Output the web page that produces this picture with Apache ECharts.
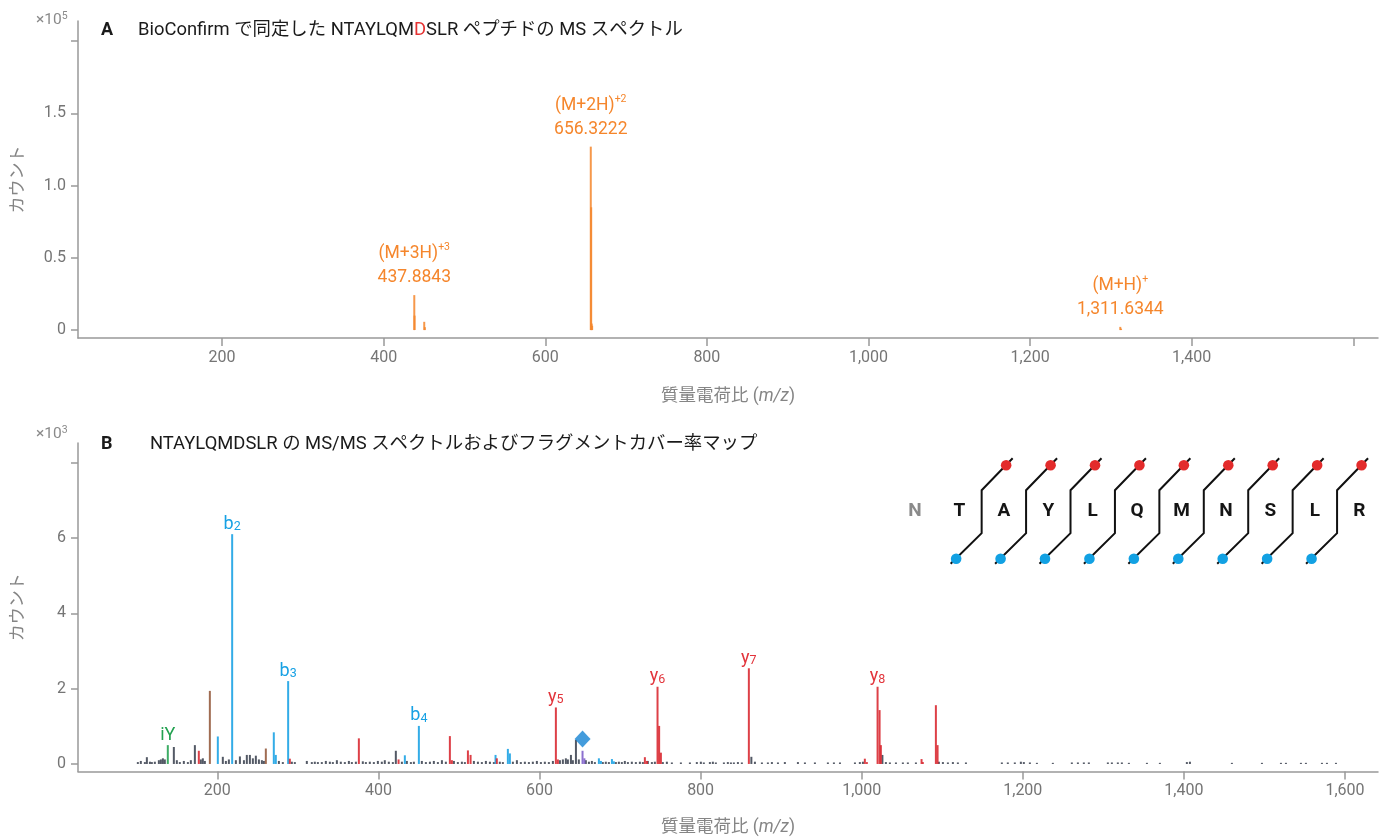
<!DOCTYPE html>
<html>
<head>
<meta charset="utf-8">
<script src="https://cdn.jsdelivr.net/npm/echarts@6/dist/echarts.min.js"></script>
<style>
  html, body { margin: 0; padding: 0; background: #fff; }
  #chart { width: 1389px; height: 840px; }
</style>
</head>
<body>
<div id="chart"></div>
<script>
// ---------- Panel A: MS spectrum (counts in units of 10^5) ----------
const msMz     = [437.8843, 438.22, 450.2, 451.0, 656.3222, 656.82, 657.4, 658.0, 1311.6344, 1312.6];
const msCounts = [0.242,    0.10,   0.057, 0.02,  1.27,     0.85,   0.045, 0.03,  0.022,     0.01];
// charge-state annotations: ion name, charge text, m/z of the annotated peak
const msIonName   = ['(M+3H)', '(M+2H)', '(M+H)'];
const msIonCharge = ['+3', '+2', '+'];
const msIonMz     = [437.8843, 656.3222, 1311.6344];

// ---------- Panel B: MS/MS spectrum (counts in units of 10^3) ----------
const otherMz = [101.3,105,110,112.5,116.3,118.7,122.4,127.4,129.9,132.4,134.8,146,149.7,153.4,158.4,163.4,167.1,172.1,179.5,182,184.5,206.8,210.6,214.3,223,228,233,236.6,240.4,244.1,247.8,251.6,255.3,257.8,276.4,281.3,292.5,296.2,311.1,317.3,321,324.8,
  329.7,334.7,339.7,343.4,348.4,353.3,358.3,363.3,367,372,380.6,384.4,389.3,394.3,399.3,404.2,407.9,412.9,417.9,421.6,429.1,435.3,440.3,444,453.9,458.9,463.9,468.8,473.8,478.8,483.7,493.7,498.6,503.6,507.3,518.5,523.5,528.4,533.4,538.4,543.3,550.7,554.5,566.9,571.9,576.8,581.8,586.8,591.7,596.7,601.7,606.6,611.6,616.6,625.3,629,632.7,635.2,639,641.4,645.2,648.8,657.5,661.3,665,668.7,678.6,682.3,686.1,694.8,698.5,702.2,705.9,709.7,714.6,719.6,724.6,728.3,734.5,739.5,743.2,
  753.1,758.1,764.3,775.5,786.7,795.3,800.3,804,811.5,815.2,818.9,828.9,833.8,837.6,841.3,846.3,851.2,863,867.4,876.1,883.5,888.5,896,904.6,920.8,929.5,941.9,958,965.5,973,991.6,997.7,1001.5,1025.7,1030,1035,1042.5,1051.1,1057.3,1067.3,1095.8,1100.8,1107,1113.2,1119.4,1129.4,1174,1181.4,1190.1,1197.6,1201.3,1208.8,1217.5,1237.3,1260.9,1268.4,1275.8,1282,1305.6,1310.6,1318,1323,1331.7,1354.1,1370.2,1403.7,1407.5,1459.6,1496.9,1520.5,1526.7,1545.3,1551.5,1571.4,1577.6,1588.8];
const otherCounts = [0.05,0.08,0.05,0.18,0.06,0.05,0.06,0.1,0.12,0.15,0.12,0.45,0.1,0.05,0.08,0.05,0.1,0.5,0.12,0.15,0.08,0.19,0.08,0.12,0.1,0.2,0.1,0.24,0.24,0.15,0.22,0.12,0.1,0.08,0.08,0.05,0.06,0.05,0.08,0.05,0.06,0.05,
  0.05,0.08,0.06,0.05,0.1,0.06,0.05,0.08,0.05,0.06,0.07,0.05,0.06,0.05,0.08,0.06,0.1,0.06,0.05,0.35,0.06,0.08,0.05,0.06,0.08,0.05,0.06,0.08,0.05,0.1,0.06,0.08,0.05,0.06,0.05,0.08,0.06,0.05,0.08,0.06,0.05,0.06,0.05,0.06,0.1,0.05,0.06,0.05,0.06,0.08,0.05,0.06,0.05,0.08,0.1,0.12,0.15,0.12,0.24,0.1,0.64,0.12,0.1,0.06,0.08,0.05,0.05,0.06,0.05,0.05,0.06,0.05,0.08,0.05,0.06,0.05,0.06,0.05,0.08,0.05,0.06,
  0.05,0.06,0.04,0.04,0.04,0.05,0.06,0.04,0.05,0.06,0.04,0.04,0.05,0.04,0.04,0.05,0.04,0.19,0.06,0.04,0.04,0.05,0.04,0.05,0.05,0.04,0.04,0.04,0.04,0.04,0.04,0.05,0.06,0.24,0.05,0.04,0.04,0.04,0.04,0.04,0.06,0.05,0.04,0.05,0.04,0.04,0.04,0.04,0.04,0.06,0.05,0.04,0.03,0.03,0.04,0.04,0.04,0.04,0.04,0.04,0.04,0.04,0.03,0.03,0.03,0.05,0.06,0.03,0.03,0.03,0.03,0.03,0.03,0.03,0.03,0.03];

const bIonMz     = [200.6, 218.4, 270.1, 272.6, 287.9, 432.8, 450.2, 545.4, 560.7, 563.2, 673.7, 676.2, 689.9, 692.3];
const bIonCounts = [0.73,  6.10,  0.84,  0.24,  2.20,  0.23,  1.01,  0.24,  0.40,  0.28,  0.15,  0.08,  0.13,  0.07];
const bIonTag    = ['',    'b2',  '',    '',    'b3',  '',    'b4',  '',    '',    '',    '',    '',    '',    ''];

const yIonMz     = [177.0, 290.0, 375.7, 425.0, 488.7, 491.2, 511.1, 514.4, 547.0, 620.3, 622.8, 730.8, 733.3, 746.5, 748.5, 750.7, 859.9, 1003.9, 1006.4, 1019.7, 1022.2, 1023.8, 1074.3, 1075.9, 1092.1, 1094.2];
const yIonCounts = [0.35,  0.14,  0.68,  0.12,  0.74,  0.10,  0.36,  0.24,  0.15,  1.50,  0.12,  0.18,  0.08,  2.05,  1.01,  0.30,  2.54,  0.14,   0.05,   2.05,   1.43,   0.50,   0.13,   0.05,   1.56,   0.50];
const yIonTag    = ['',    '',    '',    '',    '',    '',    '',    '',    '',    'y5',  '',    '',    '',    'y6',  '',    '',    'y7',  '',     '',     'y8',   '',     '',     '',     '',     '',     ''];

const internalMz     = [190.7, 260.2];
const internalCounts = [1.94,  0.41];
const immoniumMz     = [138.5];
const immoniumCounts = [0.50];
const immoniumTag    = ['iY'];
const precursorIonMz     = [653.4, 655.7];
const precursorIonCounts = [0.35,  0.15];
const precursorMarkMz    = 653.4;
const precursorMarkLevel = 0.66;

// ---------- Fragment coverage map ----------
const residues   = ['N', 'T', 'A', 'Y', 'L', 'Q', 'M', 'N', 'S', 'L', 'R'];
const bCoverage  = [1, 1, 1, 1, 1, 1, 1, 1, 1];   // cleavages after residue 2..10
const yCoverage  = [1, 1, 1, 1, 1, 1, 1, 1, 1];

// tick values
const msXTicks   = [200, 400, 600, 800, 1000, 1200, 1400, 1600];
const msXLabels  = [200, 400, 600, 800, 1000, 1200, 1400];
const msYTicks   = [0, 0.5, 1.0, 1.5, 2.0];
const msYLabels  = [0, 0.5, 1.0, 1.5];
const ms2XTicks  = [200, 400, 600, 800, 1000, 1200, 1400, 1600];
const ms2YTicks  = [0, 2, 4, 6, 8];
const ms2YLabels = [0, 2, 4, 6];

// ---------- styling ----------
const FONT = "Roboto, 'Noto Sans CJK JP', sans-serif";
const AXIS = '#999999';
const TICKTXT = '#757575';
const NAMETXT = '#858585';
const ORANGE = '#f5862c';
const DARK = '#3b4250';
const BLUE = '#17a1e4';
const RED = '#d8262e';
const BROWN = '#93583a';
const GREEN = '#22a150';
const PURPLE = '#7c5cc8';
const TITLE = '#1a1a1a';

const ionRich = {
  mb: { fontSize: 18, lineHeight: 22, verticalAlign: 'bottom', fontFamily: FONT, fill: BLUE, color: BLUE },
  sb: { fontSize: 12.5, lineHeight: 8, verticalAlign: 'bottom', fontFamily: FONT, fill: BLUE, color: BLUE },
  my: { fontSize: 18, lineHeight: 22, verticalAlign: 'bottom', fontFamily: FONT, fill: '#e2343b', color: '#e2343b' },
  sy: { fontSize: 12.5, lineHeight: 8, verticalAlign: 'bottom', fontFamily: FONT, fill: '#e2343b', color: '#e2343b' },
  mi: { fontSize: 18, lineHeight: 22, verticalAlign: 'bottom', fontFamily: FONT, fill: GREEN, color: GREEN }
};
function ionText(tag) {
  if (tag === 'iY') return '{mi|iY}';
  const k = tag[0];
  return '{m' + k + '|' + k + '}{s' + k + '|' + tag.slice(1) + '}';
}

// stick spectrum drawn through the axis scales
function sticks(name, gi, mz, counts, color, width, tags) {
  return {
    type: 'custom', name, xAxisIndex: gi, yAxisIndex: gi, z: 3,
    data: mz.map((m, i) => [m, counts[i]]),
    renderItem(params, api) {
      const x = api.value(0), y = api.value(1);
      const base = api.coord([x, 0]);
      const top = api.coord([x, y]);
      const children = [{
        type: 'rect',
        shape: { x: base[0] - width / 2, y: top[1], width, height: base[1] - top[1] },
        style: { fill: color, opacity: 0.88 }
      }];
      const tag = tags ? tags[params.dataIndex] : '';
      if (tag) {
        children.push({
          type: 'text', x: top[0], y: top[1] - 1, z2: 10,
          style: { text: ionText(tag), rich: ionRich, align: 'center', verticalAlign: 'bottom' }
        });
      }
      return { type: 'group', children };
    }
  };
}

// MS peaks with charge-state labels
const msSeries = {
  type: 'custom', name: 'MS', xAxisIndex: 0, yAxisIndex: 0, z: 3,
  data: msMz.map((m, i) => [m, msCounts[i]]),
  renderItem(params, api) {
    const x = api.value(0), y = api.value(1);
    const base = api.coord([x, 0]);
    const top = api.coord([x, y]);
    const children = [{
      type: 'rect',
      shape: { x: base[0] - 1, y: top[1], width: 2, height: base[1] - top[1] },
      style: { fill: ORANGE, opacity: 0.85 }
    }];
    const k = msIonMz.indexOf(x);
    if (k >= 0) {
      const num = x.toLocaleString('en-US', { minimumFractionDigits: 4, maximumFractionDigits: 4 });
      children.push({
        type: 'text', x: top[0], y: top[1] - 5, z2: 10,
        style: {
          text: '{m|' + msIonName[k] + '}{s|' + msIonCharge[k] + '}\n{m|' + num + '}',
          align: 'center', verticalAlign: 'bottom',
          rich: {
            m: { fontSize: 17.5, lineHeight: 24, fontFamily: FONT, fill: ORANGE, color: ORANGE },
            s: { fontSize: 10.5, lineHeight: 12, verticalAlign: 'top', fontFamily: FONT, fill: ORANGE, color: ORANGE }
          }
        }
      });
    }
    return { type: 'group', children };
  }
};

// coverage map: residue letters
const residueSeries = {
  type: 'custom', name: 'residues', xAxisIndex: 2, yAxisIndex: 2, z: 5,
  data: residues.map((r, i) => [i, 0]),
  renderItem(params, api) {
    const c = api.coord([api.value(0), 0]);
    const first = params.dataIndex === 0;
    return {
      type: 'text', x: c[0], y: c[1],
      style: {
        text: residues[params.dataIndex], align: 'center', verticalAlign: 'middle',
        fontSize: 19, fontWeight: 'bold', fontFamily: FONT,
        fill: first ? '#8a8a8a' : '#151515'
      }
    };
  }
};

// coverage map: cleavage brackets with b (blue, below) and y (red, above) markers
const cleavageSeries = {
  type: 'custom', name: 'cleavages', xAxisIndex: 2, yAxisIndex: 2, z: 5,
  data: bCoverage.map((b, i) => [i + 1.5, 0]),
  renderItem(params, api) {
    const c = api.coord([api.value(0), 0]);
    const i = params.dataIndex;
    const children = [{
      type: 'polyline',
      shape: { points: [[c[0] - 31, c[1] + 52], [c[0], c[1] + 21.5], [c[0], c[1] - 21.5], [c[0] + 31, c[1] - 53.5]] },
      style: { stroke: '#111', lineWidth: 2, fill: null }
    }];
    if (yCoverage[i]) children.push({ type: 'circle', shape: { cx: c[0] + 24.5, cy: c[1] - 46.5, r: 5.3 }, style: { fill: '#e32b2b' }, z2: 2 });
    if (bCoverage[i]) children.push({ type: 'circle', shape: { cx: c[0] - 25.5, cy: c[1] + 47, r: 5.3 }, style: { fill: '#12a1e3' }, z2: 2 });
    return { type: 'group', children };
  }
};

function xName() {
  return {
    name: '{n|質量電荷比 (}{i|m/z}{n|)}',
    nameLocation: 'middle',
    nameTextStyle: {
      rich: {
        n: { fontSize: 17.5, color: NAMETXT, fontFamily: FONT },
        i: { fontSize: 17.5, color: NAMETXT, fontFamily: FONT, fontStyle: 'italic' }
      }
    }
  };
}
function yName() {
  return {
    name: 'カウント', nameLocation: 'middle', nameRotate: 90, nameGap: 51,
    nameTextStyle: { fontSize: 17, color: NAMETXT, fontFamily: FONT }
  };
}
const axisLine = { show: true, onZero: false, lineStyle: { color: AXIS, width: 1.5 } };
const tickStyle = { color: AXIS, width: 1.5 };

const titleRich = {
  t: { fontSize: 18.4, lineHeight: 22, fontWeight: 'normal', color: TITLE, fontFamily: FONT },
  r: { fontSize: 18.4, lineHeight: 22, fontWeight: 'normal', color: '#e53232', fontFamily: FONT }
};
const expRich = {
  x: { fontSize: 15.5, lineHeight: 18, color: '#8a8a8a', fontFamily: FONT },
  s: { fontSize: 10.5, lineHeight: 10, verticalAlign: 'top', color: '#8a8a8a', fontFamily: FONT }
};

const option = {
  animation: false,
  backgroundColor: '#fff',
  title: [
    { text: 'A', left: 101, top: 19, padding: 0, textStyle: { fontSize: 18, lineHeight: 22, fontWeight: 'bold', color: TITLE, fontFamily: FONT } },
    { text: '{t|BioConfirm で同定した NTAYLQM}{r|D}{t|SLR ペプチドの MS スペクトル}', left: 138, top: 19, padding: 0,
      textStyle: { fontWeight: 'normal', rich: titleRich } },
    { text: '{x|×10}{s|5}', left: 36, top: 11, padding: 0, textStyle: { fontWeight: 'normal', rich: expRich } },
    { text: 'B', left: 101, top: 433, padding: 0, textStyle: { fontSize: 18, lineHeight: 22, fontWeight: 'bold', color: TITLE, fontFamily: FONT } },
    { text: '{t|NTAYLQMDSLR の MS/MS スペクトルおよびフラグメントカバー率マップ}', left: 150, top: 433, padding: 0,
      textStyle: { fontWeight: 'normal', rich: titleRich } },
    { text: '{x|×10}{s|3}', left: 36, top: 425, padding: 0, textStyle: { fontWeight: 'normal', rich: expRich } }
  ],
  grid: [
    { left: 78, right: 11, top: 21, height: 317 },
    { left: 78, right: 11, top: 443, height: 328.5 },
    { left: 892.8, width: 488.7, top: 451.7, height: 120 }
  ],
  xAxis: [
    Object.assign({
      gridIndex: 0, type: 'value', min: 21.7, max: 1630.6, nameGap: 50,
      axisLine, splitLine: { show: false },
      axisTick: { show: true, length: 8, customValues: msXTicks, lineStyle: tickStyle },
      axisLabel: { customValues: msXLabels, margin: 12, color: TICKTXT, fontSize: 16, fontFamily: FONT,
                   formatter: v => v.toLocaleString('en-US') }
    }, xName()),
    Object.assign({
      gridIndex: 1, type: 'value', min: 27, max: 1641, nameGap: 47,
      axisLine, splitLine: { show: false },
      axisTick: { show: true, length: 8, customValues: ms2XTicks, lineStyle: tickStyle },
      axisLabel: { customValues: ms2XTicks, margin: 11, color: TICKTXT, fontSize: 16, fontFamily: FONT,
                   formatter: v => v.toLocaleString('en-US') }
    }, xName()),
    { gridIndex: 2, type: 'value', min: -0.5, max: 10.5, show: false }
  ],
  yAxis: [
    Object.assign({
      gridIndex: 0, type: 'value', min: -0.055, max: 2.14,
      axisLine, splitLine: { show: false },
      axisTick: { show: true, length: 7, customValues: msYTicks, lineStyle: tickStyle },
      axisLabel: { customValues: msYLabels, margin: 12, color: TICKTXT, fontSize: 16, fontFamily: FONT,
                   formatter: v => (v === 0 ? '0' : v.toFixed(1)) }
    }, yName()),
    Object.assign({
      gridIndex: 1, type: 'value', min: -0.2, max: 8.52,
      axisLine, splitLine: { show: false },
      axisTick: { show: true, length: 7, customValues: ms2YTicks, lineStyle: tickStyle },
      axisLabel: { customValues: ms2YLabels, margin: 12, color: TICKTXT, fontSize: 16, fontFamily: FONT }
    }, yName()),
    { gridIndex: 2, type: 'value', min: -1, max: 1, show: false }
  ],
  series: [
    msSeries,
    sticks('other', 1, otherMz, otherCounts, DARK, 2, null),
    sticks('internal', 1, internalMz, internalCounts, BROWN, 2, null),
    sticks('immonium', 1, immoniumMz, immoniumCounts, GREEN, 2, immoniumTag),
    sticks('precursor', 1, precursorIonMz, precursorIonCounts, PURPLE, 2, null),
    sticks('b ions', 1, bIonMz, bIonCounts, BLUE, 2, bIonTag),
    sticks('y ions', 1, yIonMz, yIonCounts, RED, 2, yIonTag),
    {
      type: 'scatter', name: 'precursor mark', xAxisIndex: 1, yAxisIndex: 1, z: 6,
      symbol: 'diamond', symbolSize: [16, 17],
      itemStyle: { color: '#1583d3' },
      data: [[precursorMarkMz, precursorMarkLevel]]
    },
    residueSeries,
    cleavageSeries
  ]
};

const chart = echarts.init(document.getElementById('chart'));
chart.setOption(option);
</script>
</body>
</html>
